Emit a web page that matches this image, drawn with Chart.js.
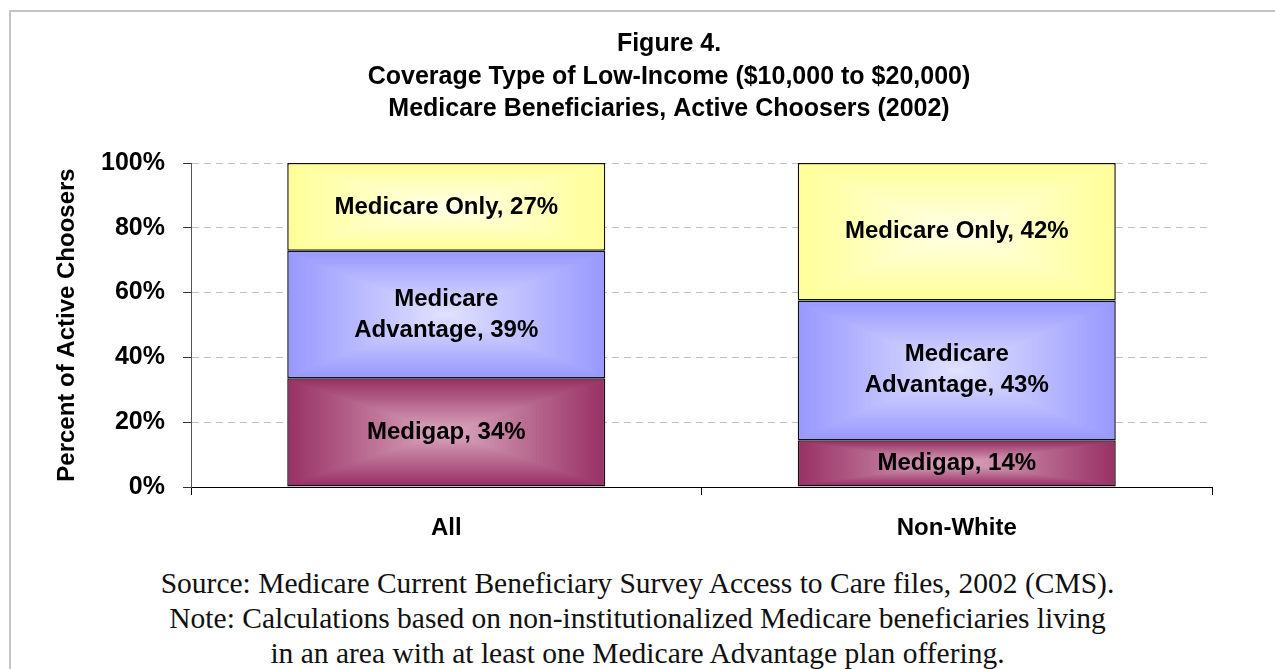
<!DOCTYPE html>
<html>
<head>
<meta charset="utf-8">
<script src="https://cdn.jsdelivr.net/npm/chart.js@4"></script>
<style>
html,body{margin:0;padding:0;background:#fff;overflow:hidden;width:1275px;height:669px;}
#frame{position:absolute;left:9px;top:10px;width:1400px;height:800px;border:2px solid #c4c4c4;box-sizing:border-box;}
#wrap{position:absolute;left:0;top:0;width:1338px;height:560px;}
#note{position:absolute;left:0;top:566px;width:1275px;text-align:center;font-family:"Liberation Serif","DejaVu Serif",serif;font-size:29.5px;line-height:35px;color:#111;}
</style>
</head>
<body>
<div id="frame"></div>
<div id="wrap"><canvas id="c" width="1338" height="560"></canvas></div>
<div id="note">Source: Medicare Current Beneficiary Survey Access to Care files, 2002 (CMS).<br>Note: Calculations based on non-institutionalized Medicare beneficiaries living<br>in an area with at least one Medicare Advantage plan offering.</div>
<script>
// ---- data ----
const categories = ['All', 'Non-White'];
const seriesNames = ['Medigap', 'Medicare Advantage', 'Medicare Only'];
const medigap = [33.6, 14.4];
const medicareAdvantage = [39.3, 43.2];
const medicareOnly = [27.1, 42.4];
const labelPercents = [[34, 14], [39, 43], [27, 42]];
const labelLines = [['Medigap'], ['Medicare', 'Advantage'], ['Medicare Only']];
const yTicks = [0, 20, 40, 60, 80, 100];
const titleLines = ['Figure 4.', 'Coverage Type of Low-Income ($10,000 to $20,000)', 'Medicare Beneficiaries, Active Choosers (2002)'];
const yAxisTitle = 'Percent of Active Choosers';

// ---- styles ----
const edgeColors = ['#993366', '#9999ff', '#ffff99'];
const centerColors = ['#dcaac0', '#e2e2ff', '#ffffe8'];
const FONT = 'Liberation Sans, Arial, sans-serif';

function hexToRgb(h) {
  const n = parseInt(h.slice(1), 16);
  return [(n >> 16) & 255, (n >> 8) & 255, n & 255];
}
function mix(a, b, t) {
  const A = hexToRgb(a), B = hexToRgb(b);
  return 'rgb(' + A.map((v, k) => Math.round(v + (B[k] - v) * t)).join(',') + ')';
}
// concentric-rectangle ("from centre") gradient
function rectGradient(ctx, L, T, R, B, edge, center) {
  const cx = (L + R) / 2, cy = (T + B) / 2;
  const hw = (R - L) / 2, hh = (B - T) / 2;
  const N = Math.max(2, Math.ceil(Math.max(hw, hh)));
  for (let i = 0; i <= N; i++) {
    const s = 1 - i / N;
    const t = i / N;
    ctx.fillStyle = mix(edge, center, t);
    ctx.fillRect(cx - hw * s, cy - hh * s, 2 * hw * s, 2 * hh * s);
  }
}

const BW = 1.5;
const gradientPlugin = {
  id: 'rectGradient',
  afterDatasetDraw(chart, args) {
    const ctx = chart.ctx;
    const i = args.index;
    args.meta.data.forEach(el => {
      const p = el.getProps(['x', 'y', 'base', 'width'], true);
      const L = p.x - p.width / 2 + BW, R = p.x + p.width / 2 - BW;
      const T = Math.min(p.y, p.base) + BW, B = Math.max(p.y, p.base) - BW;
      ctx.save();
      ctx.beginPath(); ctx.rect(L, T, R - L, B - T); ctx.clip();
      rectGradient(ctx, L, T, R, B, edgeColors[i], centerColors[i]);
      ctx.restore();
    });
  }
};

const labelPlugin = {
  id: 'segLabels',
  afterDatasetsDraw(chart) {
    const ctx = chart.ctx;
    ctx.save();
    ctx.font = 'bold 24px ' + FONT;
    ctx.fillStyle = '#000';
    ctx.textAlign = 'center';
    ctx.textBaseline = 'middle';
    const lh = 31;
    chart.data.datasets.forEach((ds, i) => {
      const meta = chart.getDatasetMeta(i);
      meta.data.forEach((el, j) => {
        const p = el.getProps(['x', 'y', 'base'], true);
        const lines = labelLines[i].slice();
        lines[lines.length - 1] = lines[lines.length - 1] + ', ' + labelPercents[i][j] + '%';
        const cy = (p.y + p.base) / 2;
        const y0 = cy - (lines.length - 1) * lh / 2;
        lines.forEach((t, k) => ctx.fillText(t, p.x, y0 + k * lh));
      });
    });
    ctx.restore();
  }
};

const seriesValues = [medigap, medicareAdvantage, medicareOnly];
const datasets = seriesNames.map((name, i) => ({
  label: name,
  data: seriesValues[i],
  backgroundColor: edgeColors[i],
  borderColor: '#111',
  borderWidth: BW,
  borderSkipped: false,
  barPercentage: 0.623,
  categoryPercentage: 1.0,
  yAxisID: 'y'
}));

new Chart(document.getElementById('c'), {
  type: 'bar',
  data: { labels: categories, datasets },
  plugins: [gradientPlugin, labelPlugin],
  options: {
    responsive: false,
    devicePixelRatio: 1,
    animation: false,
    layout: { padding: 0 },
    plugins: {
      legend: { display: false },
      tooltip: { enabled: false },
      title: {
        display: true,
        text: titleLines,
        color: '#000',
        font: { family: FONT, size: 25, weight: 'bold', lineHeight: 32.5 / 25 },
        padding: { top: 28, bottom: 37.5 }
      }
    },
    scales: {
      x: {
        stacked: true,
        afterFit(s) { s.height = 73; },
        ticks: { color: '#000', font: { family: FONT, size: 24, weight: 'bold' }, padding: 19, maxRotation: 0 },
        grid: { drawOnChartArea: false, drawTicks: true, tickLength: 8, tickColor: '#000', offset: true },
        border: { color: '#000', width: 1 }
      },
      y: {
        stacked: true,
        min: 0,
        max: 100,
        afterFit(s) { s.width = 191; },
        afterBuildTicks(s) { s.ticks = yTicks.map(v => ({ value: v })); },
        ticks: {
          color: '#000',
          font: { family: FONT, size: 25, weight: 'bold' },
          padding: 18,
          callback: v => v + '%'
        },
        grid: { color: '#c0c0c0', lineWidth: 1, tickLength: 8, tickColor: '#333', tickBorderDash: [] },
        border: { color: '#555', width: 1, dash: [7, 5] },
        title: {
          display: true,
          text: yAxisTitle,
          color: '#000',
          font: { family: FONT, size: 24, weight: 'bold', lineHeight: 1.2 },
          padding: { top: 52.6, bottom: 0 }
        }
      },
      spacer: {
        type: 'linear',
        position: 'right',
        display: true,
        min: 0,
        max: 1,
        afterFit(s) { s.width = 126; },
        ticks: { display: false },
        grid: { display: false, drawTicks: false },
        border: { display: false }
      }
    }
  }
});
</script>
</body>
</html>
